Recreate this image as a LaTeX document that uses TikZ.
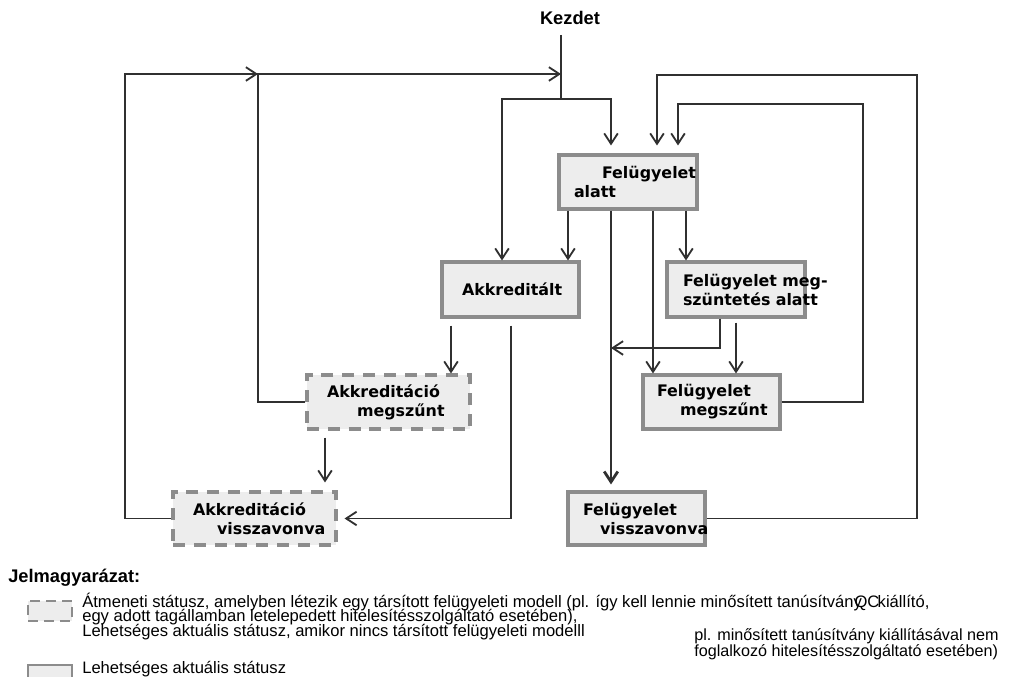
\documentclass[tikz,border=0pt]{standalone}
\usepackage{fontspec}
\setmainfont{Liberation Sans}
\newfontfamily\verd{DejaVu Sans}
\usetikzlibrary{arrows.meta}
\newlength\pxu
\setlength\pxu{0.25mm}
\newcommand*\boxline[2]{\hspace*{#1\pxu}\mbox{#2}}
\definecolor{boxgray}{HTML}{8C8C8C}
\definecolor{boxfill}{HTML}{EDEDED}
\definecolor{inkgray}{HTML}{303030}
\tikzset{
    state/.style 2 args={
        draw=boxgray, fill=boxfill, line width=2.2pt,
        inner sep=0pt, align=left,
        text width=#1\pxu, minimum height=#2\pxu,
        font=\verd\bfseries\fontsize{11.3}{13.5}\selectfont
    },
    transient/.style 2 args={
        state={#1}{#2}, dash pattern=on 3mm off 2.2mm
    }
}

\begin{document}
\begin{tikzpicture}[x=\pxu, y=-\pxu,
        wire/.style={draw=inkgray, line width=1.3pt},
        flow/.style={wire, -{Straight Barb[length=2.6mm, width=3.4mm]}},
        heading/.style={font=\bfseries\fontsize{13}{15}\selectfont},
        legend/.style={font=\fontsize{11.8}{14}\selectfont, anchor=base west, inner sep=0pt}]
    \useasboundingbox (0,0) rectangle (1011,677);
    \node[heading] (kezdet) at (570,18) {Kezdet};
    \node[state={138}{54}] (alatt) at (628,182) {\boxline{43}{Felügyelet}\\\boxline{15}{alatt}};
    \node[state={137}{55}] (akkr) at (510.5,289.5) {\boxline{20}{Akkreditált}};
    \node[state={138}{55}] (mszt) at (736,289.5) {\boxline{16}{Felügyelet meg-}\\\boxline{16}{szüntetés alatt}};
    \node[state={137}{54}] (fmeg) at (711.5,402) {\boxline{14}{Felügyelet}\\\boxline{37}{megszűnt}};
    \node[state={137}{53}] (fvissza) at (636.5,518.5) {\boxline{15}{Felügyelet}\\\boxline{32}{visszavonva}};
    \node[transient={163}{54}] (amegsz) at (388.5,402) {\boxline{20}{Akkreditáció}\\\boxline{50}{megszűnt}};
    \node[transient={163}{53}] (avissza) at (254.5,518.5) {\boxline{20}{Akkreditáció}\\\boxline{44}{visszavonva}};
    \coordinate (start) at (561,35);
    \coordinate (split) at (561,99);
    \coordinate (topL) at (125,74);
    \coordinate (topM) at (258,74);
    \coordinate (topR) at (561,74);
    \coordinate (join) at (611,348);
    \draw[wire] (start) -- (split);
    \draw[flow] (split) -| (akkr.north -| 502,0);
    \draw[flow, shorten >=2mm] (split) -| (alatt.north -| 611,0);
    \draw[flow] (alatt.south -| 568,0) -- (akkr.north -| 568,0);
    \draw[flow, line width=2pt, shorten >=1.5mm] (alatt.south -| 611,0) -- (fvissza.north -| 611,0);
    \draw[flow] (alatt.south -| 653,0) -- (fmeg.north -| 653,0);
    \draw[flow] (alatt.south -| 686,0) -- (mszt.north -| 686,0);
    \draw[flow] (mszt.south -| 720,0) |- (join);
    \draw[flow, shorten <=1mm] (mszt.south -| 736,0) -- (fmeg.north -| 736,0);
    \draw[flow, shorten >=2mm] (fmeg.east) -| (863,104) -| (alatt.north -| 678,0);
    \draw[flow, shorten >=2mm] (fvissza.east) -| (917,75) -| (alatt.north -| 657,0);
    \draw[flow, shorten <=1.75mm] (akkr.south -| 451,0) -- (amegsz.north -| 451,0);
    \draw[flow, shorten <=1.75mm, shorten >=1.75mm] (akkr.south -| 511,0) |- (avissza.east);
    \draw[flow, shorten <=1.75mm, shorten >=2mm] (amegsz.south -| 325,0) -- (avissza.north -| 325,0);
    \draw[flow] (amegsz.west) -| (topM) -- (topR);
    \draw[flow] (avissza.west) -| (topL) -- (topM);
    \node[heading, anchor=west, inner sep=0pt] (legendhead) at (8,578) {Jelmagyarázat:};
    \node[transient={44}{20}, line width=1.6pt, dash pattern=on 2.5mm off 1.5mm] (keytrans) at (50,611) {};
    \node[state={44}{20}, line width=1.6pt] (keystate) at (50,675) {};
    \node[legend] (transtext) at (82,607) {Átmeneti státusz, amelyben létezik egy társított felügyeleti modell (pl. így kell lennie minősített tanúsítvány\kern-0.45em QC\kern-0.1em kiállító,};
    \node[legend] (countrytext) at (82,621.5) {egy adott tagállamban letelepedett hitelesítésszolgáltató esetében),};
    \node[legend] (nomodeltext) at (82,636) {Lehetséges aktuális státusz, amikor nincs társított felügyeleti modelll};
    \node[legend, font=\fontsize{11.5}{16}\selectfont] (notetext) at (694,640) {pl. minősített tanúsítvány kiállításával nem};
    \node[legend, font=\fontsize{11.5}{16}\selectfont] (foglaltext) at (694,656) {foglalkozó hitelesítésszolgáltató esetében)};
    \node[legend] (statetext) at (82,673) {Lehetséges aktuális státusz};
\end{tikzpicture}
\end{document}
